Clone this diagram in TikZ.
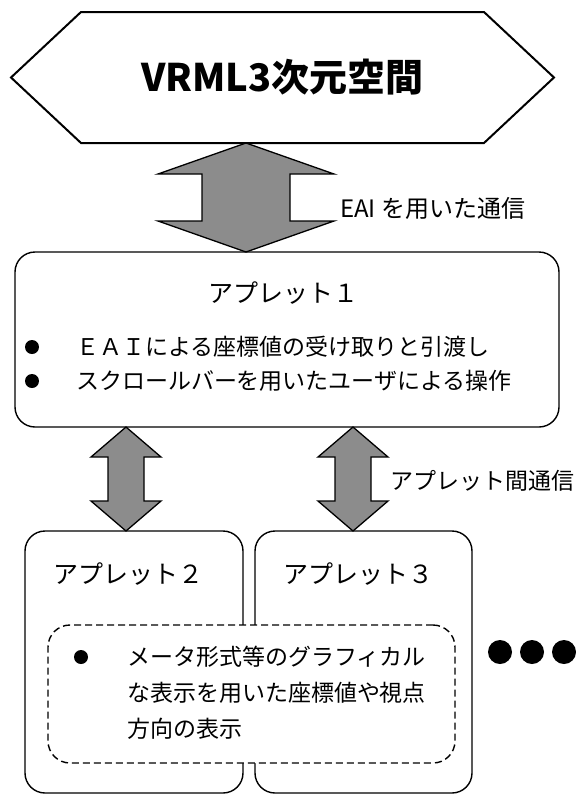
\documentclass[tikz,border=0pt]{standalone}
\usepackage{fontspec}
\usepackage{tikz}
\usetikzlibrary{positioning,calc}
\newfontfamily\jp{Noto Sans CJK JP}

\tikzset{
    every node/.style={font=\jp, inner sep=0pt, outer sep=0pt},
    hexline/.style={line width=2pt, line join=miter},
    appbox/.style={draw, line width=1.4pt, rounded corners=20pt},
    dashbox/.style={draw, fill=white, dash pattern=on 7pt off 4pt, line width=1.4pt, rounded corners=22pt},
    commarrow/.style={draw, line width=1.3pt, fill=black!45, line join=miter},
    apptitle/.style={font=\jp\fontsize{25}{25}\selectfont},
    itemtext/.style={font=\jp\fontsize{23}{36}\selectfont},
}
% #1 top tip, #2 bottom tip, #3 head half width, #4 shaft half width, #5 head length
\newcommand{\dblarrow}[5]{\draw[commarrow] (#1) -- ($(#1)+(#3,#5)$) -- ($(#1)+(#4,#5)$) -- ($(#2)+(#4,-#5)$) -- ($(#2)+(#3,-#5)$) -- (#2) -- ($(#2)+(-#3,-#5)$) -- ($(#2)+(-#4,-#5)$) -- ($(#1)+(-#4,#5)$) -- ($(#1)+(-#3,#5)$) -- cycle;}

\begin{document}
\begin{tikzpicture}[x=1pt, y=-1pt]
    \useasboundingbox (0,0) rectangle (576,796);
    \node[minimum width=403pt, minimum height=131pt, font=\jp\bfseries\fontsize{38}{38}\selectfont] (vrml) at (282.5,77.5) {VRML3次元空間};
    \draw[hexline] (vrml.north west) -- (vrml.north east) -- ($(vrml.east)+(70,0)$) -- (vrml.south east) -- (vrml.south west) -- ($(vrml.west)+(-70,0)$) -- cycle;

    \node[appbox, minimum width=544pt, minimum height=175pt] (ap1) at (287,339.5) {};
    \node[apptitle] (ap1title) at (283,293) {アプレット１};
    \fill (32,347) circle (7pt); \node[itemtext, anchor=west] (eaiitem) at (76,347) {ＥＡＩによる座標値の受け取りと引渡し};
    \fill (32,381) circle (7pt); \node[itemtext, anchor=west] (scrollitem) at (76,381) {スクロールバーを用いたユーザによる操作};

    \coordinate (eaitop) at (246,0 |- vrml.south); \coordinate (eaibot) at (246,0 |- ap1.north);
    \dblarrow{eaitop}{eaibot}{88}{44}{31}
    \node[itemtext, font=\jp\fontsize{24}{24}\selectfont, anchor=west] (eailabel) at (340,208) {EAI を用いた通信};

    \node[appbox, minimum width=218pt, minimum height=262pt] (ap2) at (134,662) {};
    \node[appbox, minimum width=217pt, minimum height=262pt] (ap3) at (363.5,662) {};
    \node[apptitle] (ap2title) at (128.5,574) {アプレット２};
    \node[apptitle] (ap3title) at (358.5,574) {アプレット３};

    \coordinate (l2top) at (126,0 |- ap1.south); \coordinate (l2bot) at (126,0 |- ap2.north);
    \coordinate (l3top) at (353,0 |- ap1.south); \coordinate (l3bot) at (353,0 |- ap3.north);
    \dblarrow{l2top}{l2bot}{35}{18}{30}
    \dblarrow{l3top}{l3bot}{35}{18}{30}
    \node[itemtext, anchor=west] (p2plabel) at (390,481) {アプレット間通信};

    \node[dashbox, minimum width=407pt, minimum height=138pt] (meter) at (251.5,694) {};
    \fill (81,657) circle (7pt); \node[itemtext, anchor=west, align=left] (metertext) at (127,693) {メータ形式等のグラフィカル\\な表示を用いた座標値や視点\\方向の表示};

    \fill (500,652) circle (12pt); \fill (532,652) circle (12pt); \fill (564,652) circle (12pt);
\end{tikzpicture}
\end{document}
